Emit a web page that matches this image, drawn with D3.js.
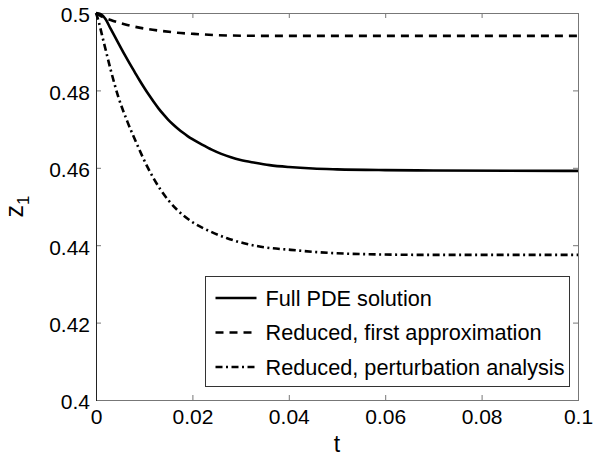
<!DOCTYPE html>
<head>
  <meta charset="utf-8">
  <script src="https://d3js.org/d3.v7.min.js"></script>
  <style>
    body { margin:0; background:#fff; }
    text { font-family: "Liberation Sans", Arial, Helvetica, sans-serif; fill:#000; }
    .tick line { stroke:#777; }
  </style>
</head>
<body>
  <script>
    // values (t, z1)
    var tFull = [0, 0.001, 0.002, 0.003, 0.004, 0.005, 0.006, 0.007, 0.008, 0.009, 0.010, 0.011, 0.012, 0.013, 0.014, 0.015, 0.016, 0.017, 0.018, 0.019, 0.020, 0.022, 0.024, 0.026, 0.028, 0.030, 0.033, 0.036, 0.040, 0.045, 0.050, 0.060, 0.070, 0.100];
    var zFull = [0.5, 0.4997, 0.4984, 0.4960, 0.4937, 0.4914, 0.4891, 0.4869, 0.4848, 0.4827, 0.4807, 0.4788, 0.4770, 0.4753, 0.4738, 0.4724, 0.4712, 0.4701, 0.4691, 0.4682, 0.4674, 0.4660, 0.4647, 0.4636, 0.4627, 0.4620, 0.4613, 0.4607, 0.4602, 0.4598, 0.4596, 0.4594, 0.4593, 0.4592];

    var tFirst = [0, 0.0006, 0.00305, 0.00649, 0.00996, 0.01342, 0.01687, 0.02033, 0.0272, 0.0342, 0.1];
    var zFirst = [0.5, 0.4995, 0.4982, 0.4969, 0.4960, 0.4954, 0.4949, 0.4946, 0.4942, 0.4941, 0.4941];

    var tPert = [0, 0.00027, 0.00166, 0.00305, 0.00456, 0.00649, 0.00857, 0.01064, 0.01342, 0.01687, 0.02033, 0.0238, 0.0272, 0.0307, 0.0342, 0.0404, 0.0485, 0.0554, 0.0693, 0.1];
    var zPert = [0.5, 0.4990, 0.4922, 0.4853, 0.4786, 0.4720, 0.4659, 0.4603, 0.4543, 0.4491, 0.4457, 0.4435, 0.4418, 0.4405, 0.4396, 0.4388, 0.4380, 0.4377, 0.4375, 0.4375];

    var seriesNames = ["Full PDE solution", "Reduced, first approximation", "Reduced, perturbation analysis"];
    var xTicks = [0, 0.02, 0.04, 0.06, 0.08, 0.1];
    var xTickLabels = ["0", "0.02", "0.04", "0.06", "0.08", "0.1"];
    var yTicks = [0.4, 0.42, 0.44, 0.46, 0.48, 0.5];
    var yTickLabels = ["0.4", "0.42", "0.44", "0.46", "0.48", "0.5"];

    var width = 593, height = 457;
    var margin = {top: 13, left: 96, right: 15, bottom: 57};
    var innerWidth = width - margin.left - margin.right;
    var innerHeight = height - margin.top - margin.bottom;

    var svg = d3.select('body').append('svg')
        .attr('width', width).attr('height', height);
    var g = svg.append('g')
        .attr('transform', `translate(${margin.left},${margin.top})`);

    var x = d3.scaleLinear().domain([0, 0.1]).range([0, innerWidth]);
    var y = d3.scaleLinear().domain([0.4, 0.5]).range([innerHeight, 0]);

    // axes, ticks pointing in
    var xAxis = d3.axisBottom(x).tickValues(xTicks)
        .tickFormat((d, i) => xTickLabels[i]).tickSizeInner(-5).tickSizeOuter(0).tickPadding(10);
    var yAxis = d3.axisLeft(y).tickValues(yTicks)
        .tickFormat((d, i) => yTickLabels[i]).tickSizeInner(-5).tickSizeOuter(0).tickPadding(6);

    var xG = g.append('g').attr('transform', `translate(0,${innerHeight})`).call(xAxis);
    var yG = g.append('g').call(yAxis);
    g.append('g').call(d3.axisTop(x).tickValues(xTicks).tickFormat('').tickSizeInner(-5).tickSizeOuter(0));
    g.append('g').attr('transform', `translate(${innerWidth},0)`)
        .call(d3.axisRight(y).tickValues(yTicks).tickFormat('').tickSizeInner(-5).tickSizeOuter(0));
    g.selectAll('.domain').remove();

    xG.selectAll('text').style('font-size', '21px').attr('dy', '0.66em');
    yG.selectAll('text').style('font-size', '21px').attr('dy', '0.42em');

    // box
    g.append('rect').attr('x', 0.5).attr('y', 0.5)
        .attr('width', innerWidth).attr('height', innerHeight)
        .attr('fill', 'none').attr('stroke', '#777');
    g.append('line').attr('x1', 0.5).attr('x2', 0.5).attr('y1', 0).attr('y2', innerHeight + 1)
        .attr('stroke', '#222');

    // curves
    var styles = [
      {t: tFull, z: zFull, dash: null},
      {t: tFirst, z: zFirst, dash: '8,6'},
      {t: tPert, z: zPert, dash: '7,3.5,2,3.5'}
    ];
    var line = d3.line().x(d => x(d[0])).y(d => y(d[1])).curve(d3.curveMonotoneX);

    g.selectAll('.curve').data(styles).enter().append('path')
        .attr('class', 'curve')
        .attr('d', s => line(s.t.map((t, i) => [t, s.z[i]])))
        .attr('fill', 'none').attr('stroke', '#000').attr('stroke-width', 2.6)
        .attr('stroke-dasharray', s => s.dash);

    // legend
    var lg = svg.append('g').attr('transform', 'translate(205.5,276.5)');
    lg.append('rect').attr('width', 364).attr('height', 110)
        .attr('fill', '#fff').attr('stroke', '#333');
    var rows = lg.selectAll('.row').data(styles).enter().append('g')
        .attr('class', 'row')
        .attr('transform', (d, i) => `translate(0,${21.5 + i * 34.5})`);
    rows.append('line').attr('x1', 10).attr('x2', 51).attr('y1', 0).attr('y2', 0)
        .attr('stroke', '#000').attr('stroke-width', 2.6)
        .attr('stroke-dasharray', d => d.dash);
    rows.append('text').attr('x', 60).attr('dy', '0.36em')
        .style('font-size', '21.7px')
        .text((d, i) => seriesNames[i]);

    // axis labels
    svg.append('text').attr('x', margin.left + innerWidth / 2).attr('y', 452)
        .attr('text-anchor', 'middle').style('font-size', '23px').text('t');
    var zl = svg.append('text')
        .attr('transform', `translate(23,${margin.top + innerHeight / 2}) rotate(-90)`)
        .attr('text-anchor', 'middle').style('font-size', '25px');
    zl.append('tspan').text('z');
    zl.append('tspan').attr('dy', 6).style('font-size', '17px').text('1');
  </script>
</body>
